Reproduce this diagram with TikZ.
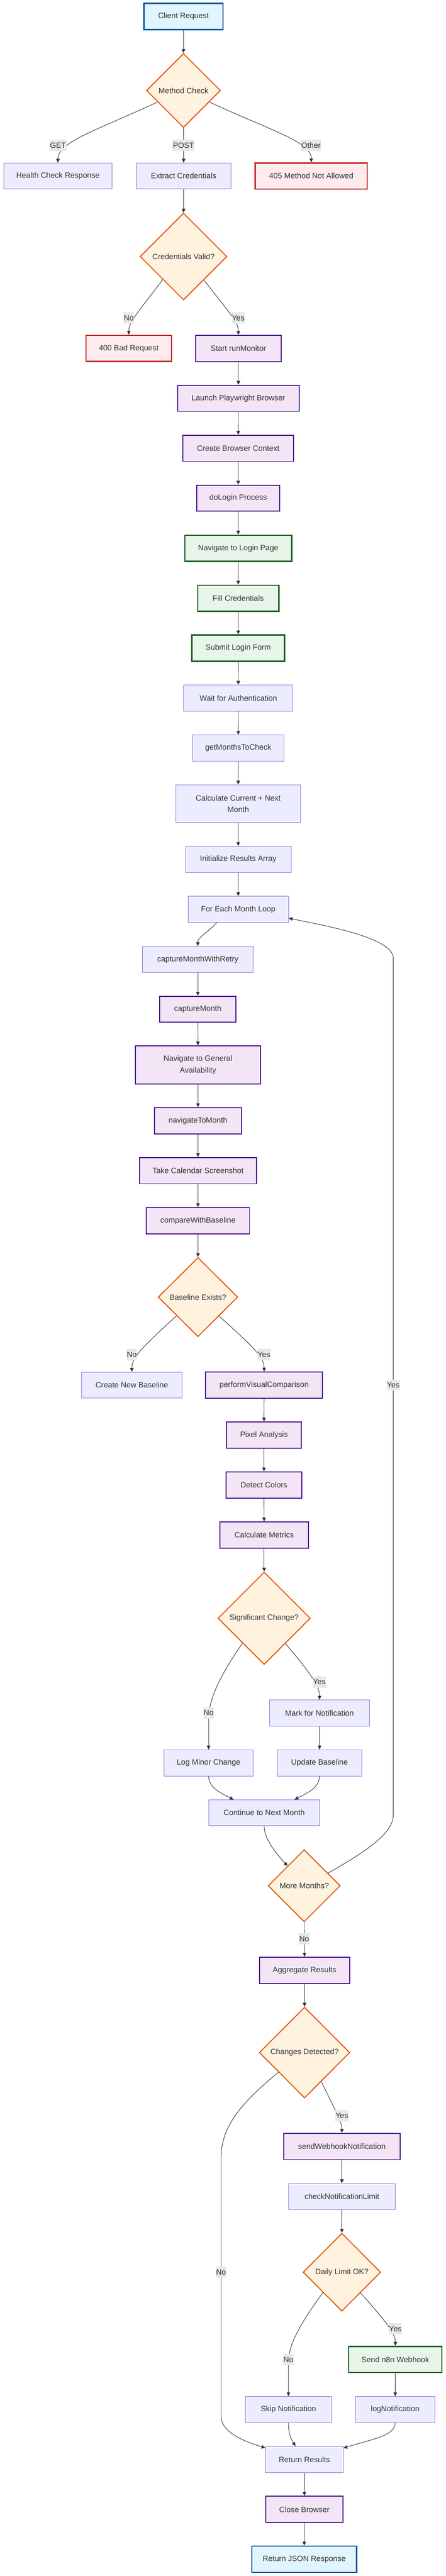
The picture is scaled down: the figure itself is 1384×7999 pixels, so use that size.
\documentclass[tikz,border=0pt]{standalone}
\usepackage{fontspec}
\setmainfont{Liberation Sans}
\usetikzlibrary{arrows.meta,shapes.geometric}
\definecolor{edgec}{HTML}{333333}
\definecolor{txt}{HTML}{333333}
\definecolor{dfill}{HTML}{ECECFF}
\definecolor{dstroke}{HTML}{9370DB}
\definecolor{cfill}{HTML}{E1F5FE}
\definecolor{cstroke}{HTML}{01579B}
\definecolor{decfill}{HTML}{FFF3E0}
\definecolor{decstroke}{HTML}{E65100}
\definecolor{pfill}{HTML}{F3E5F5}
\definecolor{pstroke}{HTML}{4A148C}
\definecolor{gfill}{HTML}{E8F5E9}
\definecolor{gstroke}{HTML}{1B5E20}
\definecolor{rfill}{HTML}{FFEBEE}
\definecolor{rstroke}{HTML}{C62828}
\definecolor{lblbg}{HTML}{E8E8E8}
\begin{document}
\begin{tikzpicture}[x=1pt,y=-1pt,
  base/.style={draw, rectangle, inner sep=0pt, text=txt, font=\fontsize{24}{36}\selectfont, align=center},
  sz/.style 2 args={minimum width=#1pt, minimum height=#2pt},
  dflt/.style={base, fill=dfill, draw=dstroke, line width=1.5pt},
  clientbox/.style={base, fill=cfill, draw=cstroke, line width=4pt},
  dec/.style={base, shape=diamond, fill=decfill, draw=decstroke, line width=3pt},
  procbox/.style={base, fill=pfill, draw=pstroke, line width=3pt},
  greenbox/.style={base, fill=gfill, draw=gstroke, line width=4pt},
  redbox/.style={base, fill=rfill, draw=rstroke, line width=4pt},
  conn/.style={draw=edgec, line width=1.5pt, -{Triangle[length=12pt,width=11pt]}},
  lbl/.style={fill=lblbg, inner xsep=1pt, inner ysep=0pt, minimum height=35pt, text=txt, font=\fontsize{24}{36}\selectfont}
]
\useasboundingbox (0,0) rectangle (1384,7999);
\fill[white] (0,0) rectangle (1384,7999);

% nodes
\node[clientbox, sz={246}{82}] (client) at (570,51) {Client Request};
\node[dec, sz={230}{230}] (method) at (570,281) {Method Check};
\node[dflt, sz={336}{81}] (health) at (180,546.5) {Health Check Response};
\node[dflt, sz={295}{81}] (extract) at (570.5,546.5) {Extract Credentials};
\node[redbox, sz={348}{81}] (m405) at (967,546.5) {405 Method Not Allowed};
\node[dec, sz={270}{270}] (cred) at (570,796.5) {Credentials Valid?};
\node[redbox, sz={266}{81}] (bad400) at (400,1082) {400 Bad Request};
\node[procbox, sz={265}{81}] (startrun) at (740.5,1082) {Start runMonitor};
\node[procbox, sz={377}{81}] (launch) at (740.5,1237) {Launch Playwright Browser};
\node[procbox, sz={345}{81}] (ctx) at (740,1392) {Create Browser Context};
\node[procbox, sz={258}{81}] (dologin) at (740,1547) {doLogin Process};
\node[greenbox, sz={332}{81}] (navlogin) at (740,1702.5) {Navigate to Login Page};
\node[greenbox, sz={252}{81}] (fillcred) at (740,1858) {Fill Credentials};
\node[greenbox, sz={288}{81}] (submit) at (740,2012.5) {Submit Login Form};
\node[dflt, sz={339}{81}] (wait) at (740.5,2167.5) {Wait for Authentication};
\node[dflt, sz={286}{81}] (getmonths) at (740,2323) {getMonthsToCheck};
\node[dflt, sz={388}{117}] (calc) at (740,2495.5) {Calculate Current + Next\\Month};
\node[dflt, sz={328}{81}] (init) at (740,2668.5) {Initialize Results Array};
\node[dflt, sz={312}{81}] (foreach) at (740,2824) {For Each Month Loop};
\node[dflt, sz={343}{81}] (cmwr) at (614.5,2979) {captureMonthWithRetry};
\node[procbox, sz={237}{81}] (cm) at (614.5,3134) {captureMonth};
\node[procbox, sz={388}{118}] (navga) at (615,3307) {Navigate to General\\Availability};
\node[procbox, sz={270}{81}] (navmonth) at (615,3480) {navigateToMonth};
\node[procbox, sz={364}{81}] (shot) at (615,3635) {Take Calendar Screenshot};
\node[procbox, sz={320}{81}] (compare) at (615,3790.6) {compareWithBaseline};
\node[dec, sz={247}{246}] (baseline) at (615,4027.7) {Baseline Exists?};
\node[dflt, sz={311}{81}] (newbase) at (409.5,4301) {Create New Baseline};
\node[procbox, sz={363}{81}] (pvc) at (820.5,4301) {performVisualComparison};
\node[procbox, sz={232}{81}] (pixel) at (820,4456) {Pixel Analysis};
\node[procbox, sz={234}{81}] (colors) at (820,4611) {Detect Colors};
\node[procbox, sz={275}{81}] (metrics) at (820.5,4766.5) {Calculate Metrics};
\node[dec, sz={287}{287}] (sig) at (820.5,5025) {Significant Change?};
\node[dflt, sz={311}{81}] (mark) at (992.5,5319) {Mark for Notification};
\node[dflt, sz={276}{81}] (logminor) at (648,5474) {Log Minor Change};
\node[dflt, sz={262}{81}] (update) at (992.5,5474) {Update Baseline};
\node[dflt, sz={343}{81}] (cont) at (820.5,5629) {Continue to Next Month};
\node[dec, sz={224}{224}] (more) at (945,5855.7) {More Months?};
\node[procbox, sz={280}{81}] (aggregate) at (946,6118) {Aggregate Results};
\node[dec, sz={281}{282}] (changes) at (946,6373.6) {Changes Detected?};
\node[procbox, sz={362}{81}] (sendwh) at (1062,6665) {sendWebhookNotification};
\node[dflt, sz={332}{81}] (checklimit) at (1062,6820.5) {checkNotificationLimit};
\node[dec, sz={241}{242}] (daily) at (1062,7055.6) {Daily Limit OK?};
\node[greenbox, sz={290}{81}] (n8n) at (1228,7326.5) {Send n8n Webhook};
\node[dflt, sz={266}{81}] (skip) at (896,7482) {Skip Notification};
\node[dflt, sz={247}{81}] (lognotif) at (1227.5,7482) {logNotification};
\node[dflt, sz={241}{81}] (retres) at (945.5,7637) {Return Results};
\node[procbox, sz={239}{81}] (closeb) at (945.5,7792) {Close Browser};
\node[clientbox, sz={326}{81}] (json) at (945,7947) {Return JSON Response};

% connectors
\draw[conn] (client) -- (method);
\draw[conn] (method.204) .. controls (300,405) and (180,440) .. (health.north);
\draw[conn] (method) -- (extract);
\draw[conn] (method.336) .. controls (840,405) and (967,440) .. (m405.north);
\draw[conn] (extract) -- (cred);
\draw[conn] (cred.228.7) .. controls (425,975) and (400,1000) .. (bad400.north);
\draw[conn] (cred.311.3) .. controls (715,975) and (740.5,1000) .. (startrun.north);
\draw[conn] (startrun) -- (launch);
\draw[conn] (launch) -- (ctx);
\draw[conn] (ctx) -- (dologin);
\draw[conn] (dologin) -- (navlogin);
\draw[conn] (navlogin) -- (fillcred);
\draw[conn] (fillcred) -- (submit);
\draw[conn] (submit) -- (wait);
\draw[conn] (wait) -- (getmonths);
\draw[conn] (getmonths) -- (calc);
\draw[conn] (calc) -- (init);
\draw[conn] (init) -- (foreach);
\draw[conn] ([xshift=-66.5pt]foreach.south) .. controls (640,2900) and (614.5,2910) .. (cmwr.north);
\draw[conn] (cmwr) -- (cm);
\draw[conn] (cm) -- (navga);
\draw[conn] (navga) -- (navmonth);
\draw[conn] (navmonth) -- (shot);
\draw[conn] (shot) -- (compare);
\draw[conn] (compare) -- (baseline);
\draw[conn] (baseline.221.5) .. controls (440,4185) and (409.5,4215) .. (newbase.north);
\draw[conn] (baseline.318.5) .. controls (790,4185) and (820.5,4215) .. (pvc.north);
\draw[conn] (pvc) -- (pixel);
\draw[conn] (pixel) -- (colors);
\draw[conn] (colors) -- (metrics);
\draw[conn] (metrics) -- (sig);
\draw[conn] (sig.310.4) .. controls (970,5200) and (992.5,5240) .. (mark.north);
\draw[conn] (sig.229.6) .. controls (668,5225) and (648,5290) .. (648,5340) -- (logminor.north);
\draw[conn] (mark) -- (update);
\draw[conn] (logminor.south) .. controls (648,5552) and (690,5570) .. ([xshift=-95pt]cont.north);
\draw[conn] (update.south) .. controls (992.5,5552) and (950,5570) .. ([xshift=94.5pt]cont.north);
\draw[conn] (cont.south) .. controls (820.5,5712) and (862,5760) .. (more.130);
\draw[conn] (more.28) .. controls (1105,5767) and (1221.5,5700) .. (1221.5,5638) -- (1221.5,2975) .. controls (1221.5,2910) and (1000,2873) .. ([yshift=-27pt]foreach.east);
\draw[conn] (more) -- (aggregate);
\draw[conn] (aggregate) -- (changes);
\draw[conn] (changes.300.4) .. controls (1045,6560) and (1062,6590) .. (sendwh.north);
\draw[conn] (changes.217.6) .. controls (755,6525) and (686.7,6600) .. (686.7,6700) -- (686.7,7502) .. controls (686.7,7555) and (765,7583) .. ([yshift=-5.5pt]retres.north west);
\draw[conn] (sendwh) -- (checklimit);
\draw[conn] (checklimit) -- (daily);
\draw[conn] (daily.312.7) .. controls (1210,7220) and (1228,7250) .. (n8n.north);
\draw[conn] (daily.227.3) .. controls (915,7240) and (896,7290) .. (896,7340) -- (skip.north);
\draw[conn] (n8n) -- (lognotif);
\draw[conn] (skip.south) .. controls (896,7560) and (905,7575) .. ([xshift=-27.5pt]retres.north);
\draw[conn] (lognotif.south) .. controls (1227.5,7565) and (1150,7575) .. ([yshift=-6pt]retres.north east);
\draw[conn] (retres) -- (closeb);
\draw[conn] (closeb) -- (json);

% edge labels
\node[lbl] (lGET) at (180,451) {GET};
\node[lbl] (lPOST) at (570,451) {POST};
\node[lbl] (lOther) at (966,451) {Other};
\node[lbl] (lNoA) at (400,987) {No};
\node[lbl] (lYesA) at (740,987) {Yes};
\node[lbl] (lNoB) at (409.5,4206) {No};
\node[lbl] (lYesB) at (820,4206) {Yes};
\node[lbl] (lYesLoop) at (1221.5,4301) {Yes};
\node[lbl] (lYesC) at (992,5223) {Yes};
\node[lbl] (lNoC) at (648,5318.6) {No};
\node[lbl] (lNoD) at (945,6020) {No};
\node[lbl] (lYesD) at (1062,6569.7) {Yes};
\node[lbl] (lNoE) at (686.7,7055.6) {No};
\node[lbl] (lYesE) at (1228,7231) {Yes};
\node[lbl] (lNoF) at (896,7327) {No};
\end{tikzpicture}
\end{document}
